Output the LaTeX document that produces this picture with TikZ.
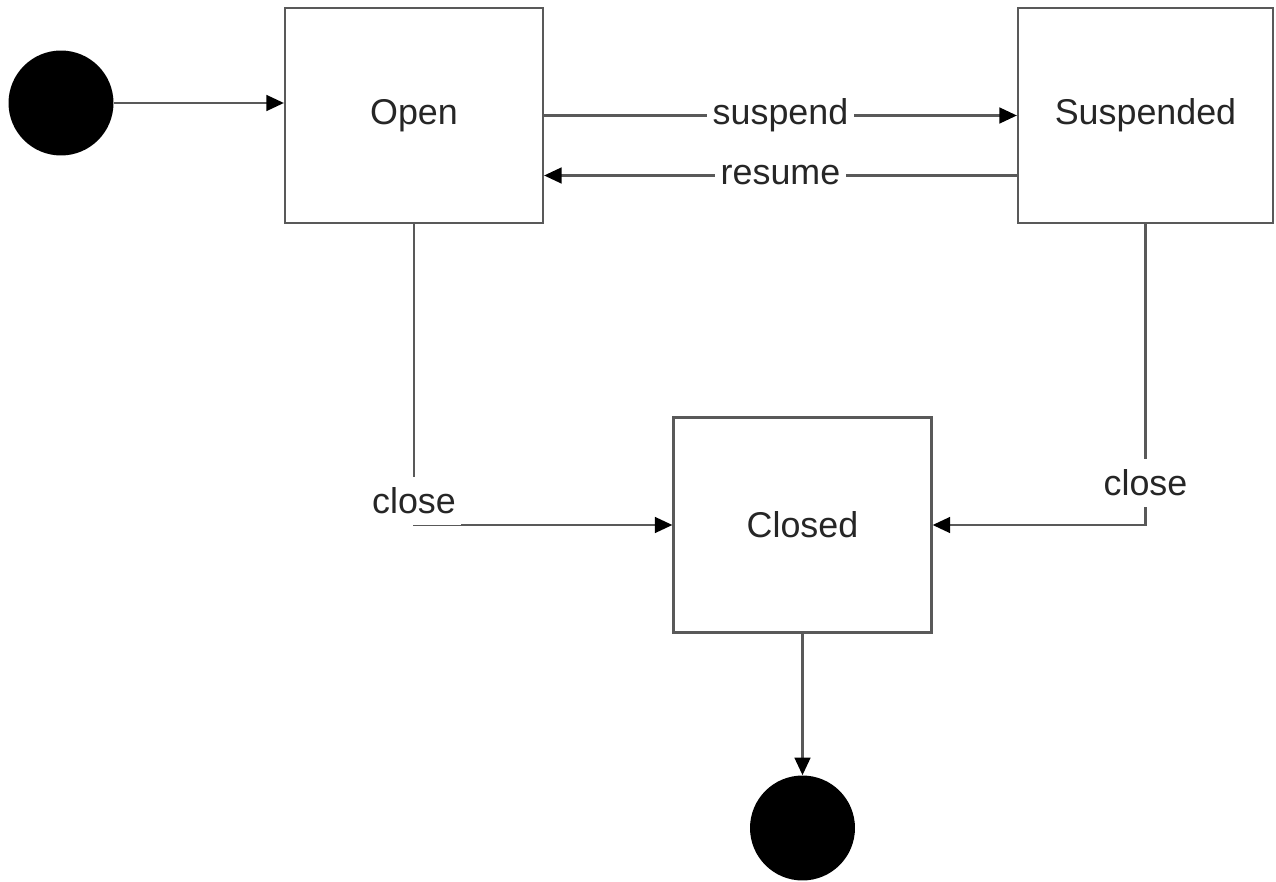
\documentclass[tikz,border=0pt]{standalone}
\usepackage{fontspec}
\setmainfont{Liberation Sans}
\usetikzlibrary{arrows.meta,positioning}

\begin{document}
\begin{tikzpicture}[x=0.02cm,y=-0.02cm,
    >={Triangle[length=10pt,width=9pt,color=black]},
    state/.style={draw=black!65,line width=1.3pt,fill=white,minimum width=5.16cm,minimum height=4.3cm,
                  font=\fontsize{20.4}{24}\selectfont,text=black!85},
    pseudo/.style={circle,fill=black,minimum size=2.1cm,inner sep=0pt},
    trans/.style={draw=black!65,line width=1.3pt},
    every edge/.style={trans},
    lbl/.style={fill=white,inner xsep=3pt,inner ysep=6pt,
                font=\fontsize{20.4}{24}\selectfont,text=black!85}]
   \useasboundingbox (0,0) rectangle (1276,882);

   \node[pseudo] (init) at (61,103) {};
   \node[state] (open) at (414,115.5) {Open};
   \node[state,minimum width=5.1cm] (susp) at (1145.5,115.5) {Suspended};
   \node[state] (closed) at (802.5,525) {Closed};
   \node[pseudo] (final) at (802.5,828) {};

   \path[->]
    (init) edge (init -| open.west)
    (open.east) edge node[lbl] {suspend} (susp.west)
    ([yshift=-1.2cm]susp.west) edge node[lbl] {resume} ([yshift=-1.2cm]open.east)
    (closed) edge (final);

   \draw[trans,->] (open.south) -- node[lbl,pos=0.92] {close} (open.south |- closed.west) -- (closed.west);
   \draw[trans,->] (susp.south) -- node[lbl,pos=0.86] {close} (susp.south |- closed.east) -- (closed.east);
\end{tikzpicture}
\end{document}
